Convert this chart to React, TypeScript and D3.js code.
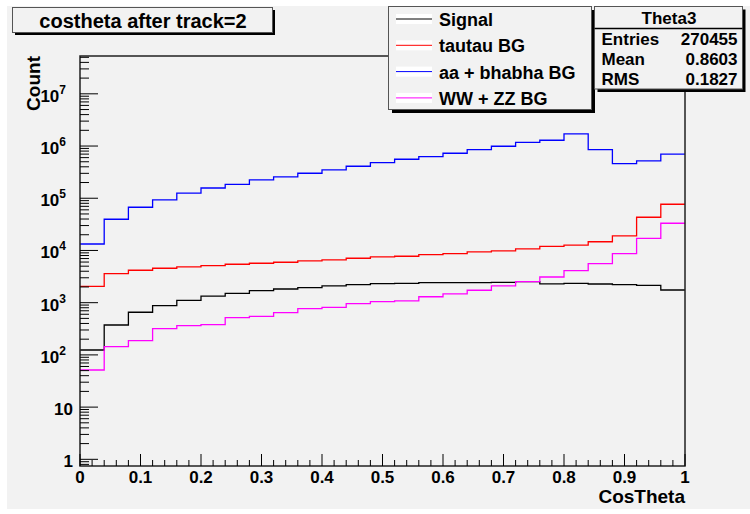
import React from 'react';
import * as d3 from 'd3';

// bin edges of the CosTheta histogram (25 bins)
const binEdges = [0, 0.04, 0.08, 0.12, 0.16, 0.2, 0.24, 0.28, 0.32, 0.36, 0.4, 0.44, 0.48,
  0.52, 0.56, 0.6, 0.64, 0.68, 0.72, 0.76, 0.8, 0.84, 0.88, 0.92, 0.96, 1];

const signal = [124, 374, 655, 877, 1110, 1330, 1510, 1700, 1830, 1940, 2090, 2210, 2310,
  2350, 2420, 2420, 2420, 2450, 2530, 2290, 2350, 2280, 2210, 2150, 1750];
const tautau = [2060, 3590, 4180, 4560, 4830, 5120, 5440, 5690, 5950, 6300, 6580, 7090, 7510,
  7740, 8310, 8690, 9360, 9790, 10700, 12000, 12700, 14700, 19000, 43300, 76800];
const aaBhabha = [13300, 39600, 67300, 92700, 125000, 157000, 185000, 224000, 256000, 301000,
  349000, 410000, 481000, 558000, 627000, 728000, 853000, 991000, 1180000, 1290000, 1710000,
  853000, 460000, 519000, 697000];
const wwZz = [51.4, 144, 187, 318, 363, 379, 517, 549, 643, 767, 816, 958, 1045, 1080, 1300,
  1470, 1730, 2090, 2530, 3100, 4100, 5580, 8690, 17100, 33200];

const series = [
  { name: 'Signal', values: signal, color: '#000000' },
  { name: 'tautau BG', values: tautau, color: '#ff0000' },
  { name: 'aa + bhabha BG', values: aaBhabha, color: '#0000ff' },
  { name: 'WW + ZZ BG', values: wwZz, color: '#ff00ff' }
];

const xTickLabels = ['0', '0.1', '0.2', '0.3', '0.4', '0.5', '0.6', '0.7', '0.8', '0.9', '1'];
const yDecades = [0, 1, 2, 3, 4, 5, 6, 7];

const stats = [
  { label: 'Entries', value: '270455' },
  { label: 'Mean', value: '0.8603' },
  { label: 'RMS', value: '0.1827' }
];

const font = '"Liberation Sans", Arial, Helvetica, sans-serif';
const bg = '#f2f2f2';

export default function App() {
  // frame of the pad
  const left = 80, right = 685, top = 56, bottom = 466;

  const x = d3.scaleLinear().domain([0, 1]).range([left, right]);
  const y = d3.scaleLog().domain([0.745, 5.3e7]).range([bottom, top]);

  const line = d3.line<[number, number]>()
    .x(d => x(d[0]))
    .y(d => y(d[1]))
    .curve(d3.curveStepAfter);

  const histPath = (vals: number[]) => {
    const pts: [number, number][] = vals.map((v, i) => [binEdges[i], v]);
    pts.push([binEdges[binEdges.length - 1], vals[vals.length - 1]]);
    return line(pts) || '';
  };

  // minor ticks
  const xMinor = d3.range(0, 51).map(i => i * 0.02);
  const yMinor: number[] = [];
  for (let k = -1; k <= 7; k++) {
    for (let m = 2; m <= 9; m++) {
      const v = m * Math.pow(10, k);
      if (v >= 0.745 && v <= 5.3e7) yMinor.push(v);
    }
  }

  return (
    <svg width={750} height={514} style={{ position: 'absolute', left: 0, top: 0 }}
      fontFamily={font} fontWeight="bold">
      <rect x={0} y={0} width={750} height={514} fill="#ffffff" />
      <rect x={7} y={6} width={743} height={503} fill={bg} />

      {/* histograms */}
      <g fill="none" strokeWidth={1.3}>
        {series.map(s => (
          <path key={s.name} d={histPath(s.values)} stroke={s.color} />
        ))}
      </g>

      {/* frame */}
      <rect x={left} y={top} width={right - left} height={bottom - top}
        fill="none" stroke="#222" strokeWidth={1.5} />

      {/* x ticks */}
      <g stroke="#000" strokeWidth={1}>
        {xMinor.map((t, i) => (
          <line key={i} x1={x(t)} x2={x(t)} y1={bottom}
            y2={bottom - (i % 5 === 0 ? 12 : 6)} />
        ))}
        {yMinor.map((v, i) => (
          <line key={'m' + i} x1={left} x2={left + 9} y1={y(v)} y2={y(v)} />
        ))}
        {yDecades.map(k => (
          <line key={'d' + k} x1={left} x2={left + 18} y1={y(Math.pow(10, k))} y2={y(Math.pow(10, k))} />
        ))}
      </g>

      {/* x tick labels */}
      <g fontSize={17} textAnchor="middle" fill="#000">
        {xTickLabels.map((l, i) => (
          <text key={l} x={x(i / 10)} y={483}>{l}</text>
        ))}
      </g>

      {/* y tick labels */}
      <g fontSize={17} textAnchor="end" fill="#000">
        {yDecades.map(k => {
          const ty = y(Math.pow(10, k)) + 8;
          if (k === 0) return <text key={k} x={73} y={ty}>1</text>;
          if (k === 1) return <text key={k} x={73} y={ty}>10</text>;
          return (
            <text key={k} x={66} y={ty}>10<tspan dy={-8} fontSize={12}>{k}</tspan></text>
          );
        })}
      </g>

      {/* axis titles */}
      <text x={685} y={503} fontSize={19} textAnchor="end">CosTheta</text>
      <text transform="translate(40,56) rotate(-90)" fontSize={19} textAnchor="end">Count</text>

      {/* title box */}
      <rect x={15} y={10} width={260} height={25} fill="#000" />
      <rect x={12.5} y={7.5} width={260} height={25} fill={bg} stroke="#555" strokeWidth={1} />
      <text x={143} y={28} fontSize={20} textAnchor="middle">costheta after track=2</text>

      {/* legend */}
      <rect x={392} y={10} width={203} height={103} fill="#000" />
      <rect x={388.5} y={6.5} width={203} height={103} fill={bg} stroke="#555" strokeWidth={1} />
      {series.map((s, i) => {
        const base = 26 + i * 26.3;
        return (
          <g key={s.name}>
            <rect x={396} y={base - 12} width={36} height={10} fill="#ffffff" />
            <line x1={396} x2={432} y1={base - 7} y2={base - 7} stroke={s.color} strokeWidth={1} />
            <text x={439} y={base} fontSize={18}>{s.name}</text>
          </g>
        );
      })}

      {/* stats box */}
      <rect x={597.5} y={9.5} width={148} height={82.5} fill="#000" />
      <rect x={594.5} y={6.5} width={148} height={82.5} fill={bg} stroke="#555" strokeWidth={1} />
      <line x1={594.5} x2={742.5} y1={28.5} y2={28.5} stroke="#000" strokeWidth={1.5} />
      <text x={669} y={24} fontSize={17} textAnchor="middle">Theta3</text>
      {stats.map((s, i) => (
        <g key={s.label} fontSize={17}>
          <text x={601.5} y={45 + i * 20}>{s.label}</text>
          <text x={737.5} y={45 + i * 20} textAnchor="end">{s.value}</text>
        </g>
      ))}
    </svg>
  );
}
